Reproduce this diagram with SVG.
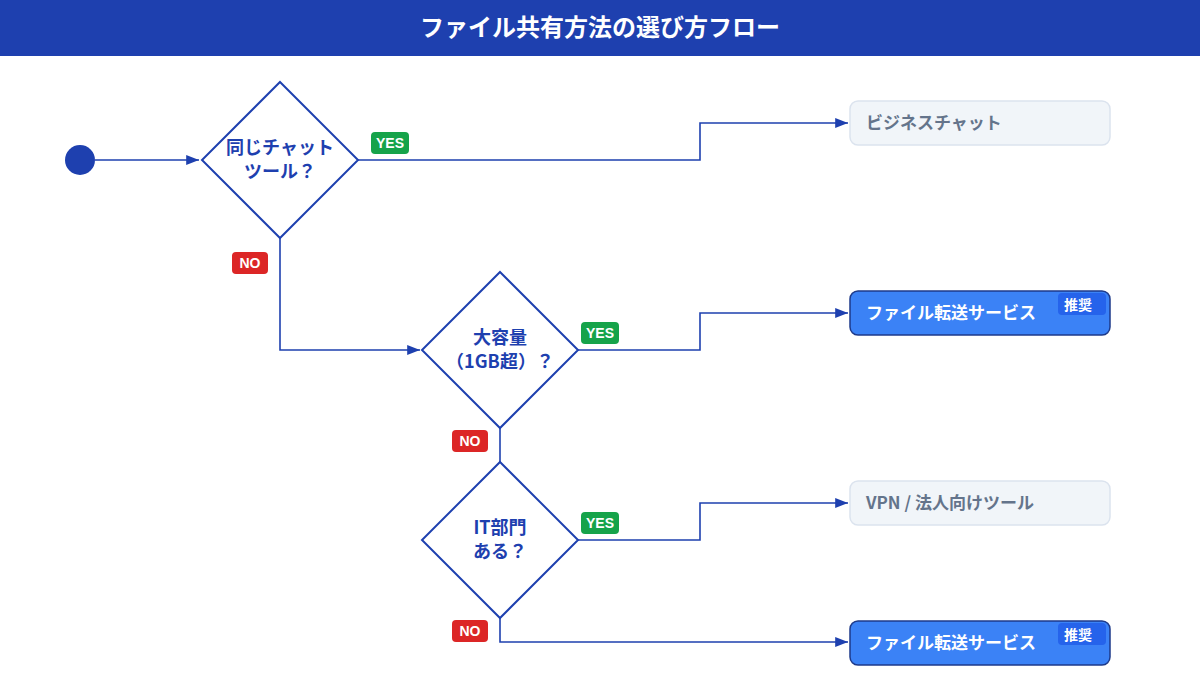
<svg xmlns="http://www.w3.org/2000/svg" width="1200" height="700" viewBox="0 0 1200 700">
<defs>
<marker id="ar" viewBox="0 0 10 10" refX="10" refY="5" markerWidth="8" markerHeight="8" orient="auto"><path d="M0,1 L10,5 L0,9 z" fill="#1e40af"/></marker>
<style>
text{font-family:"Noto Sans CJK JP","Noto Sans",sans-serif;font-weight:bold}
.dm{fill:#fff;stroke:#1e40af;stroke-width:2}
.dt{fill:#1e40af;font-size:18px;text-anchor:middle}
.c{fill:none;stroke:#1e40af;stroke-width:1.6;marker-end:url(#ar)}
.g{fill:#f1f5f9;stroke:#dbe3ee;stroke-width:1.5}
.gt{fill:#64748b;font-size:17px}
.b{fill:#3b82f6;stroke:#1e3a8a;stroke-width:1.5}
.bt{fill:#fff;font-size:17px}
.yes{fill:#16a34a}.no{fill:#dc2626}
.lt{fill:#fff;font-size:14px;text-anchor:middle;font-family:"Liberation Sans",sans-serif}
</style>
</defs>
<rect width="1200" height="56" fill="#1e40af"/>
<text x="600" y="36" fill="#fff" font-size="24" text-anchor="middle">ファイル共有方法の選び方フロー</text>
<g id="connectors">
<path class="c" d="M95,160 H199"/>
<path class="c" d="M358,160 H700 V123 H848"/>
<path class="c" d="M280,238 V350 H420"/>
<path class="c" d="M578,350 H700 V313 H848"/>
<path d="M500,428 V462" stroke="#1e40af" stroke-width="1.6"/>
<path class="c" d="M578,540 H700 V503 H848"/>
<path class="c" d="M500,618 V642 H848"/>
</g>
<g id="start"><circle cx="80" cy="160" r="15" fill="#1e40af"/></g>
<g id="d1"><polygon class="dm" points="280,82 358,160 280,238 202,160"/><text class="dt" x="280" y="154">同じチャット</text><text class="dt" x="280" y="178">ツール？</text></g>
<g id="d2"><polygon class="dm" points="500,272 578,350 500,428 422,350"/><text class="dt" x="500" y="344">大容量</text><text class="dt" x="500" y="368">（1GB超）？</text></g>
<g id="d3"><polygon class="dm" points="500,462 578,540 500,618 422,540"/><text class="dt" x="500" y="534">IT部門</text><text class="dt" x="500" y="558">ある？</text></g>
<g id="l1"><rect class="yes" x="371" y="132" width="38" height="22" rx="4"/><text class="lt" x="390" y="148">YES</text></g>
<g id="l2"><rect class="no" x="232" y="252" width="36" height="22" rx="4"/><text class="lt" x="250" y="268">NO</text></g>
<g id="l3"><rect class="yes" x="581" y="322" width="38" height="22" rx="4"/><text class="lt" x="600" y="338">YES</text></g>
<g id="l4"><rect class="no" x="452" y="430" width="36" height="22" rx="4"/><text class="lt" x="470" y="446">NO</text></g>
<g id="l5"><rect class="yes" x="581" y="512" width="38" height="22" rx="4"/><text class="lt" x="600" y="528">YES</text></g>
<g id="l6"><rect class="no" x="452" y="620" width="36" height="22" rx="4"/><text class="lt" x="470" y="636">NO</text></g>
<g id="n1"><rect class="g" x="850" y="101" width="260" height="44" rx="8"/><text class="gt" x="866" y="129">ビジネスチャット</text></g>
<g id="n2"><rect class="b" x="850" y="291" width="260" height="44" rx="8"/><text class="bt" x="866" y="319">ファイル転送サービス</text><rect x="1058" y="293" width="48" height="22" rx="4" fill="#2563eb"/><text x="1078" y="310" fill="#fff" font-size="14" text-anchor="middle">推奨</text></g>
<g id="n3"><rect class="g" x="850" y="481" width="260" height="44" rx="8"/><text class="gt" x="866" y="509">VPN / 法人向けツール</text></g>
<g id="n4"><rect class="b" x="850" y="621" width="260" height="44" rx="8"/><text class="bt" x="866" y="649">ファイル転送サービス</text><rect x="1058" y="623" width="48" height="22" rx="4" fill="#2563eb"/><text x="1078" y="640" fill="#fff" font-size="14" text-anchor="middle">推奨</text></g>
</svg>
